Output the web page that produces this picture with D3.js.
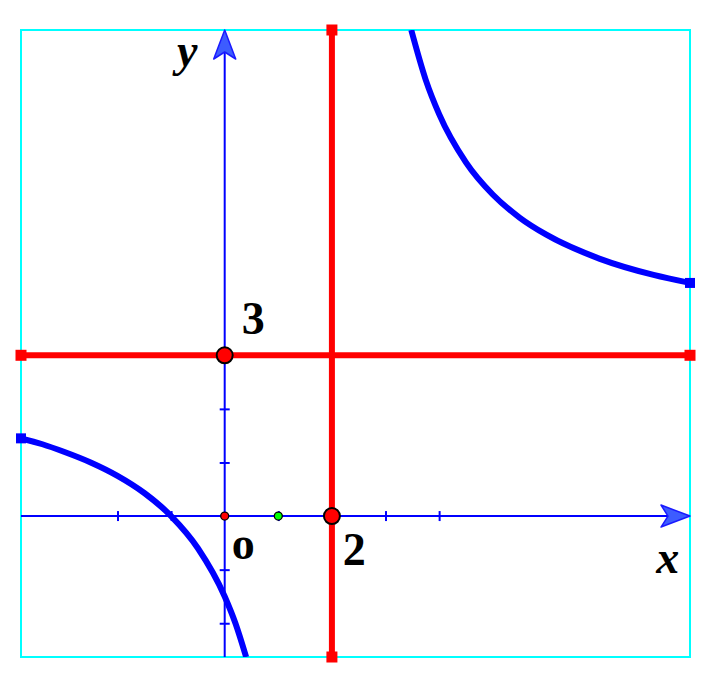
<!DOCTYPE html>
<html>
<head>
<meta charset="utf-8">
<script src="https://cdn.jsdelivr.net/npm/d3@7"></script>
<style>
html,body{margin:0;padding:0;background:#fff;}
svg{display:block;}
</style>
</head>
<body>
<svg id="chart" width="711" height="678"></svg>
<script>
// ---- data ----
const xDomain = [-3.8, 8.68];
const yDomain = [-2.63, 9.07];
const xTicks = [-2, -1, 1, 2, 3, 4];
const yTicks = [-2, -1, 1, 2, 3];
const asymptoteX = 2;
const asymptoteY = 3;
// left branch of the curve (x, y)
const leftX = [-3.8, -3.4, -3, -2.5, -2, -1.5, -1, -0.5, 0, 0.2, 0.4];
const leftY = [1.45, 1.34, 1.2, 1.0, 0.75, 0.43, 0, -0.6, -1.5, -2.0, -2.63];
// right branch of the curve (x, y)
const rightX = [3.48, 3.75, 4, 4.5, 5, 5.5, 6, 7, 8, 8.68];
const rightY = [9.07, 8.14, 7.5, 6.6, 6.0, 5.57, 5.25, 4.8, 4.5, 4.35];
// marked points
const bigPoints = [{x: 0, y: 3}, {x: 2, y: 0}];
const smallPoints = [{x: 0, y: 0, c: "#ff0000"}, {x: 1, y: 0, c: "#00ff00"}];
const labels = [
  {t: "3", x: 0.32, y: 3.4, it: false},
  {t: "o", x: 0.13, y: -0.8, it: false},
  {t: "2", x: 2.2, y: -0.91, it: false},
  {t: "x", x: 8.05, y: -1.06, it: true},
  {t: "y", x: -0.89, y: 8.4, it: true}
];

// ---- drawing ----
const svg = d3.select("#chart");
const x = d3.scaleLinear().domain(xDomain).range([21, 690]);
const y = d3.scaleLinear().domain(yDomain).range([657, 30]);

svg.append("defs").append("clipPath").attr("id", "frameclip")
  .append("rect").attr("x", x(xDomain[0])).attr("y", y(yDomain[1]))
  .attr("width", x(xDomain[1]) - x(xDomain[0])).attr("height", y(yDomain[0]) - y(yDomain[1]));

// frame
svg.append("rect")
  .attr("x", x(xDomain[0])).attr("y", y(yDomain[1]))
  .attr("width", x(xDomain[1]) - x(xDomain[0]))
  .attr("height", y(yDomain[0]) - y(yDomain[1]))
  .attr("fill", "none").attr("stroke", "#00ffff").attr("stroke-width", 2);

// axes lines
svg.append("line")
  .attr("x1", x(xDomain[0])).attr("x2", x(xDomain[1]) - 8)
  .attr("y1", y(0)).attr("y2", y(0))
  .attr("stroke", "#0000ff").attr("stroke-width", 2);
svg.append("line")
  .attr("x1", x(0)).attr("x2", x(0))
  .attr("y1", y(yDomain[0])).attr("y2", y(yDomain[1]) + 8)
  .attr("stroke", "#0000ff").attr("stroke-width", 2);

// ticks via d3 axes
const xAxis = svg.append("g")
  .attr("transform", `translate(0,${y(0) - 5})`)
  .call(d3.axisBottom(x).tickValues(xTicks).tickSize(10).tickFormat(""));
const yAxis = svg.append("g")
  .attr("transform", `translate(${x(0) - 5},0)`)
  .call(d3.axisRight(y).tickValues(yTicks).tickSize(10).tickFormat(""));
[xAxis, yAxis].forEach(g => {
  g.select(".domain").remove();
  g.selectAll("line").attr("stroke", "#0000ff").attr("stroke-width", 2);
});

// arrow heads
const ox = x(xDomain[1]), oy = y(0);
svg.append("path")
  .attr("d", `M${ox},${oy} L${ox - 29},${oy - 11} L${ox - 22},${oy} L${ox - 29},${oy + 11} Z`)
  .attr("fill", "#3d5cff").attr("stroke", "#1a1aff").attr("stroke-width", 1.5).attr("stroke-linejoin", "round");
const tx = x(0), ty = y(yDomain[1]);
svg.append("path")
  .attr("d", `M${tx},${ty} L${tx - 11},${ty + 29} L${tx},${ty + 22} L${tx + 11},${ty + 29} Z`)
  .attr("fill", "#3d5cff").attr("stroke", "#1a1aff").attr("stroke-width", 1.5).attr("stroke-linejoin", "round");

// curve branches
const line = d3.line().x(d => x(d[0])).y(d => y(d[1])).curve(d3.curveMonotoneX);
const leftPts = leftX.map((v, i) => [v, leftY[i]]);
const rightPts = rightX.map((v, i) => [v, rightY[i]]);
const curveG = svg.append("g").attr("clip-path", "url(#frameclip)");
[leftPts, rightPts].forEach(p => {
  curveG.append("path").attr("d", line(p))
    .attr("fill", "none").attr("stroke", "#0000ff").attr("stroke-width", 6);
});
// end caps of the curve at frame sides
[leftPts[0], rightPts[rightPts.length - 1]].forEach(p => {
  svg.append("rect").attr("x", x(p[0]) - 5).attr("y", y(p[1]) - 5)
    .attr("width", 10).attr("height", 10).attr("fill", "#0000ff");
});

// red asymptotes
svg.append("line")
  .attr("x1", x(xDomain[0])).attr("x2", x(xDomain[1]))
  .attr("y1", y(asymptoteY)).attr("y2", y(asymptoteY))
  .attr("stroke", "#ff0000").attr("stroke-width", 6);
svg.append("line")
  .attr("x1", x(asymptoteX)).attr("x2", x(asymptoteX))
  .attr("y1", y(yDomain[0])).attr("y2", y(yDomain[1]))
  .attr("stroke", "#ff0000").attr("stroke-width", 6);
[[x(xDomain[0]), y(asymptoteY)], [x(xDomain[1]), y(asymptoteY)],
 [x(asymptoteX), y(yDomain[0])], [x(asymptoteX), y(yDomain[1])]].forEach(p => {
  svg.append("rect").attr("x", p[0] - 5.5).attr("y", p[1] - 5.5)
    .attr("width", 11).attr("height", 11).attr("fill", "#ff0000");
});

// points
svg.selectAll("circle.big").data(bigPoints).join("circle")
  .attr("cx", d => x(d.x)).attr("cy", d => y(d.y)).attr("r", 8)
  .attr("fill", "#ff0000").attr("stroke", "#000").attr("stroke-width", 2);
svg.selectAll("circle.small").data(smallPoints).join("circle")
  .attr("cx", d => x(d.x)).attr("cy", d => y(d.y)).attr("r", 4)
  .attr("fill", d => d.c).attr("stroke", "#000").attr("stroke-width", 1.3);

// labels
svg.selectAll("text.lbl").data(labels).join("text")
  .attr("x", d => x(d.x)).attr("y", d => y(d.y))
  .attr("font-family", "'Liberation Serif', 'Times New Roman', serif")
  .attr("font-weight", "bold")
  .attr("font-style", d => d.it ? "italic" : "normal")
  .attr("font-size", 46)
  .attr("fill", "#000")
  .text(d => d.t);
</script>
</body>
</html>
